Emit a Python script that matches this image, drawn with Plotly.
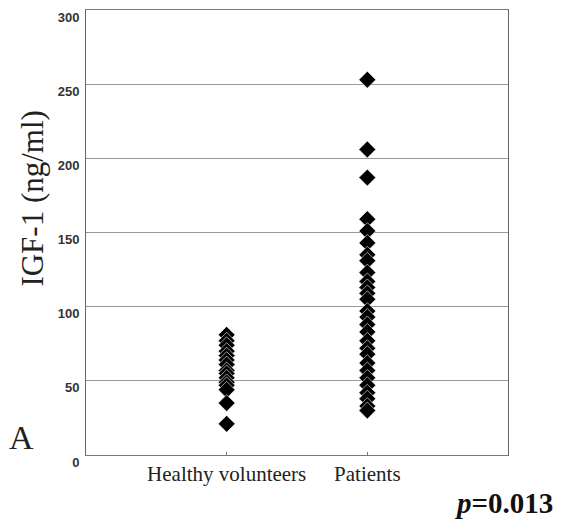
import plotly.graph_objects as go

categories = ["Healthy volunteers", "Patients"]
healthy = [81, 77, 74, 70, 67, 64, 61, 57, 55, 52, 49, 47, 44, 35, 21]
patients = [253, 206, 187, 159, 151, 143, 135, 131, 123, 117, 113, 109, 105, 97,
            93, 88, 83, 77, 72, 68, 62, 57, 52, 47, 42, 38, 33, 30]
y_ticks = [0, 50, 100, 150, 200, 250, 300]

fig = go.Figure()
for cat_idx, vals in [(1, healthy), (2, patients)]:
    fig.add_trace(go.Scatter(
        x=[cat_idx] * len(vals), y=vals, mode="markers",
        marker=dict(symbol="diamond", size=13, color="black",
                    line=dict(color="white", width=0.6)),
        showlegend=False, hoverinfo="y"))

serif = "Liberation Serif, Times New Roman, serif"
fig.update_layout(
    width=561, height=522,
    margin=dict(l=86, r=53, t=10, b=67),
    plot_bgcolor="white", paper_bgcolor="white",
    xaxis=dict(range=[0, 3], tickvals=[1, 2], ticktext=categories,
               tickfont=dict(family=serif, size=21, color="#222"),
               showgrid=False, zeroline=False, showline=True, linecolor="#777", linewidth=1,
               mirror=True, ticks="inside", ticklen=3, tickcolor="#777", automargin=False),
    yaxis=dict(range=[0, 300], tickvals=y_ticks,
               tickfont=dict(family="Liberation Sans, Arial, sans-serif", size=13, color="#333", weight="bold"),
               showgrid=True, gridcolor="#999", gridwidth=1, zeroline=False,
               showline=True, linecolor="#666", linewidth=1, mirror=True,
               ticks="", ticklabelstandoff=3, ticklabelshift=7, automargin=False),
)

fig.add_annotation(text="IGF-1 (ng/ml)", xref="paper", yref="paper",
                   x=-0.126, y=0.578, textangle=-90, showarrow=False,
                   xanchor="center", yanchor="middle",
                   font=dict(family=serif, size=31, color="#222"))
fig.add_annotation(text="A", xref="paper", yref="paper",
                   x=-0.152, y=0.04, showarrow=False, xanchor="center", yanchor="middle",
                   font=dict(family=serif, size=34, color="#222"))
fig.add_annotation(text="<b><i>p</i>=0.013</b>", xref="paper", yref="paper",
                   x=1.111, y=-0.108, showarrow=False, xanchor="right", yanchor="middle",
                   font=dict(family=serif, size=29, color="#111"))

fig.write_html("out.html", config={"displayModeBar": False},
               post_script="document.body.style.margin='0';")
